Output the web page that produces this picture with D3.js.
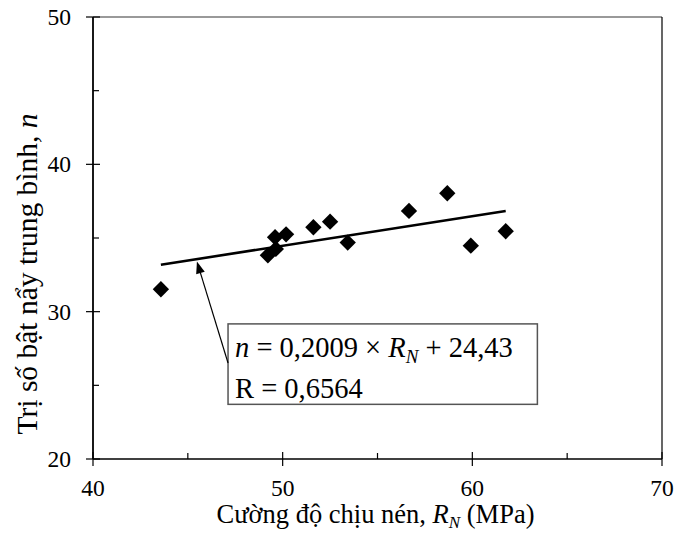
<!DOCTYPE html>
<html><head><meta charset="utf-8">
<script src="https://cdn.jsdelivr.net/npm/d3@7"></script>
<style>body{margin:0;background:#fff}svg{display:block}svg text{font-family:'Liberation Serif';fill:#000}</style>
</head><body><svg id="c" width="675" height="533" font-family="Liberation Serif"></svg>
<script>
const strengthRN = [43.58, 49.22, 49.60, 49.64, 50.18, 51.62, 52.50, 53.43, 56.66, 58.68, 59.92, 61.76];
const reboundN   = [31.52, 33.83, 35.05, 34.26, 35.25, 35.73, 36.11, 34.69, 36.84, 38.04, 34.48, 35.46];
const xMajorTicks = [40, 50, 60, 70];
const xMinorTicks = [45, 55, 65];
const yMajorTicks = [20, 30, 40, 50];
const yMinorTicks = [25, 35, 45];
const slope = 0.2009, intercept = 24.43, rValue = "0,6564";

const FONT = "Liberation Serif";
const svg = d3.select("#c");
const L = 93, R = 662, T = 17, B = 459;
const x = d3.scaleLinear().domain([40, 70]).range([L, R]);
const y = d3.scaleLinear().domain([20, 50]).range([B, T]);

// frame top / right
svg.append("line").attr("x1", x(40)).attr("x2", x(70)).attr("y1", y(50)).attr("y2", y(50)).attr("stroke", "#777").attr("stroke-width", 1.5);
svg.append("line").attr("x1", x(70)).attr("x2", x(70)).attr("y1", y(50)).attr("y2", y(20)).attr("stroke", "#000").attr("stroke-width", 1.2);

// x axis
const gx = svg.append("g");
gx.append("line").attr("x1", x(40)).attr("x2", x(70)).attr("y1", B).attr("y2", B).attr("stroke", "#000").attr("stroke-width", 1.5);
gx.selectAll("line.maj").data(xMajorTicks).join("line").attr("class", "maj")
  .attr("x1", d => x(d)).attr("x2", d => x(d)).attr("y1", B - 7).attr("y2", B + 7).attr("stroke", "#000").attr("stroke-width", 1.2);
gx.selectAll("line.min").data(xMinorTicks).join("line").attr("class", "min")
  .attr("x1", d => x(d)).attr("x2", d => x(d)).attr("y1", B - 6).attr("y2", B).attr("stroke", "#000").attr("stroke-width", 1.2);
gx.selectAll("text").data(xMajorTicks).join("text")
  .attr("font-family", FONT)
  .attr("x", d => x(d)).attr("y", 496).attr("text-anchor", "middle").attr("font-size", 23.5).text(d => d);

// y axis
const gy = svg.append("g");
gy.append("line").attr("x1", L).attr("x2", L).attr("y1", y(50)).attr("y2", y(20)).attr("stroke", "#000").attr("stroke-width", 1.8);
gy.selectAll("line.maj").data(yMajorTicks).join("line").attr("class", "maj")
  .attr("x1", L - 7).attr("x2", L + 7).attr("y1", d => y(d)).attr("y2", d => y(d)).attr("stroke", "#000").attr("stroke-width", 1.2);
gy.selectAll("line.min").data(yMinorTicks).join("line").attr("class", "min")
  .attr("x1", L).attr("x2", L + 6).attr("y1", d => y(d)).attr("y2", d => y(d)).attr("stroke", "#000").attr("stroke-width", 1.2);
gy.selectAll("text").data(yMajorTicks).join("text")
  .attr("font-family", FONT)
  .attr("x", 71).attr("y", d => y(d)).attr("dy", "0.34em").attr("text-anchor", "end").attr("font-size", 23.5).text(d => d);

// axis titles
const xt = svg.append("text").attr("font-family", FONT).attr("x", (L + R) / 2 - 2).attr("y", 523).attr("text-anchor", "middle").attr("font-size", 26.5);
xt.append("tspan").text("Cường độ chịu nén, ");
xt.append("tspan").attr("font-style", "italic").text("R");
xt.append("tspan").attr("font-style", "italic").attr("font-size", 17).attr("dy", 5).text("N");
xt.append("tspan").attr("dy", -5).text(" (MPa)");

const yt = svg.append("text").attr("font-family", FONT).attr("transform", `translate(37,274) rotate(-90)`).attr("text-anchor", "middle").attr("font-size", 29.5);
yt.append("tspan").text("Trị số bật nẩy trung bình, ");
yt.append("tspan").attr("font-style", "italic").text("n");

// regression line
const xr = d3.extent(strengthRN);
svg.append("line").attr("x1", x(xr[0])).attr("y1", y(slope * xr[0] + intercept))
  .attr("x2", x(xr[1])).attr("y2", y(slope * xr[1] + intercept)).attr("stroke", "#000").attr("stroke-width", 2.6);

// points
const pts = strengthRN.map((v, i) => [v, reboundN[i]]);
svg.selectAll("path.pt").data(pts).join("path").attr("class", "pt")
  .attr("d", d3.symbol(d3.symbolDiamond2, 170))
  .attr("transform", d => `translate(${x(d[0])},${y(d[1])})`).attr("fill", "#000");

// annotation box
const bx0 = 47.12, bx1 = 63.43, by0 = 29.17, by1 = 23.71;
svg.append("rect").attr("x", x(bx0)).attr("y", y(by0)).attr("width", x(bx1) - x(bx0)).attr("height", y(by1) - y(by0))
  .attr("fill", "#fff").attr("stroke", "#555").attr("stroke-width", 1.5);
const e1 = svg.append("text").attr("font-family", FONT).attr("x", x(bx0) + 7).attr("y", 356.5).attr("font-size", 28.5);
e1.append("tspan").attr("font-style", "italic").text("n");
e1.append("tspan").text(" = 0,2009 × ");
e1.append("tspan").attr("font-style", "italic").text("R");
e1.append("tspan").attr("font-style", "italic").attr("font-size", 19).attr("dy", 6).text("N");
e1.append("tspan").attr("dy", -6).text(" + 24,43");
svg.append("text").attr("font-family", FONT).attr("x", x(bx0) + 7).attr("y", 397.5).attr("font-size", 28.5).text("R = " + rValue);

// arrow
const tipX = 45.48, tipY = 33.4;
const tx = x(tipX), ty = y(tipY), sx = x(bx0), sy = 363;
const ang = Math.atan2(ty - sy, tx - sx);
svg.append("line").attr("x1", sx).attr("y1", sy).attr("x2", tx - 9 * Math.cos(ang)).attr("y2", ty - 9 * Math.sin(ang)).attr("stroke", "#000").attr("stroke-width", 1.2);
const hl = 12, hw = 4.5;
const bxp = tx - hl * Math.cos(ang), byp = ty - hl * Math.sin(ang);
svg.append("path").attr("d", `M${tx},${ty}L${bxp + hw * Math.sin(ang)},${byp - hw * Math.cos(ang)}L${bxp - hw * Math.sin(ang)},${byp + hw * Math.cos(ang)}Z`).attr("fill", "#000");
</script></body></html>
